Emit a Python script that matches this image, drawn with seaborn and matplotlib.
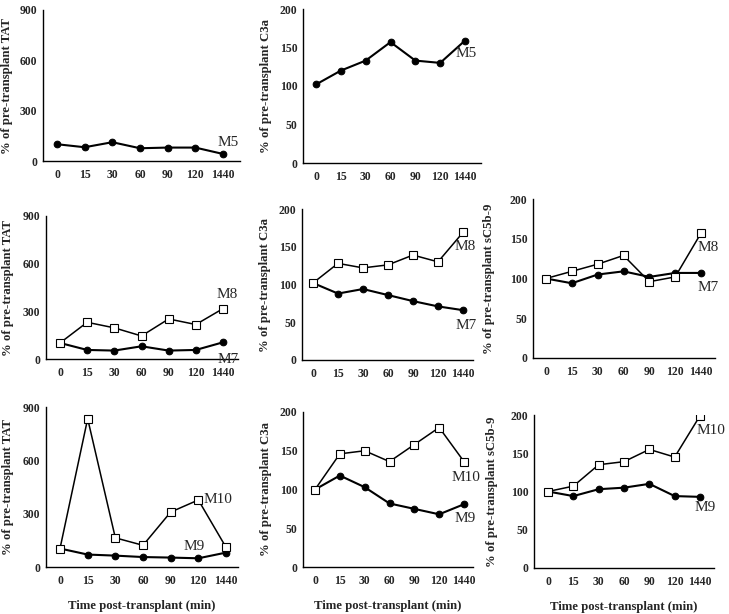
import numpy as np
import pandas as pd
import seaborn as sns
import matplotlib.pyplot as plt

# --- DATA ---
TIMES = ["0", "15", "30", "60", "90", "120", "1440"]

TAT_M5 = [100, 82, 112, 76, 80, 80, 42]
C3A_M5 = [102, 120, 133, 157, 133, 130, 159]

TAT_M7 = [101, 57, 53, 80, 53, 57, 105]
TAT_M8 = [101, 231, 196, 145, 252, 217, 317]
C3A_M7 = [102, 88, 94, 86, 78, 71, 66]
C3A_M8 = [102, 128, 122, 126, 139, 130, 169]
SC5B9_M7 = [100, 94, 105, 109, 102, 107, 107]
SC5B9_M8 = [100, 109, 118, 129, 96, 102, 157]

TAT_M9 = [104, 70, 64, 56, 53, 49, 81]
TAT_M10 = [104, 834, 164, 122, 309, 377, 111]
C3A_M9 = [100, 118, 103, 82, 75, 68, 81]
C3A_M10 = [100, 146, 150, 136, 158, 180, 136]
SC5B9_M9 = [100, 94, 103, 105, 110, 94, 93]
SC5B9_M10 = [100, 107, 135, 139, 155, 145, 199]

YLABELS = {"TAT": "% of pre-transplant TAT",
           "C3a": "% of pre-transplant C3a",
           "sC5b-9": "% of pre-transplant sC5b-9"}

W, H = 729, 614
SERIF = "Liberation Serif"

sns.set_theme(style="white")
plt.rcParams['font.family'] = [SERIF, 'DejaVu Serif']

fig = plt.figure(figsize=(W / 100, H / 100), dpi=100)


def make_axes(left, top, right, bottom, t0, t6):
    ax = fig.add_axes([left / W, 1 - bottom / H, (right - left) / W, (bottom - top) / H])
    sp = (t6 - t0) / 6
    ax.set_xlim((left - t0) / sp, (right - t0) / sp)
    return ax


def draw(ax, measure, series, labels, ylab_x):
    # series: list of (values, kind) with kind 'open' or 'filled'
    x = np.arange(len(TIMES))
    for vals, kind in series:
        if kind == "open":
            sns.lineplot(x=x, y=vals, ax=ax, color="black", lw=1.1, marker="s",
                         markersize=6.2, markerfacecolor="white",
                         markeredgecolor="black", markeredgewidth=0.8, zorder=3)
        else:
            sns.lineplot(x=x, y=vals, ax=ax, color="black", lw=1.5, marker="o",
                         markersize=4.8, markerfacecolor="black",
                         markeredgecolor="black", zorder=2)
    top = 900 if measure == "TAT" else 200
    step = 300 if measure == "TAT" else 50
    ax.set_ylim(0, top)
    ax.set_yticks(np.arange(0, top + 1, step))
    ax.set_xticks(x)
    ax.set_xticklabels(TIMES)
    for s in ["top", "right"]:
        ax.spines[s].set_visible(False)
    for s in ["left", "bottom"]:
        ax.spines[s].set_color("black")
        ax.spines[s].set_linewidth(1.0)
    ax.tick_params(length=0, labelsize=8.4)
    ax.tick_params(axis="x", pad=6)
    ax.tick_params(axis="y", pad=4)
    for t in ax.get_xticklabels() + ax.get_yticklabels():
        t.set_fontweight("bold")
    ax.set_ylabel(YLABELS[measure], fontsize=9.2, fontweight="bold")
    # y label centre, in pixels left of the axis line
    bb = ax.get_position()
    ax.yaxis.set_label_coords(-ylab_x / (bb.width * W), 0.5)
    for text, idx, vals, dx, dy, ha in labels:
        ax.annotate(text, xy=(idx, vals[idx]), xytext=(dx * 0.72, -dy * 0.72),
                    textcoords="offset points", ha=ha, va="center", fontsize=11)


def time_label(ax):
    ax.set_xlabel("Time post-transplant (min)", fontsize=9.2, fontweight="bold", labelpad=9)


# Row 1
ax = make_axes(43, 10, 240, 161, 57, 223)
draw(ax, "TAT", [(TAT_M5, "filled")], [("M5", 6, TAT_M5, 5, -11, "center")], 30)
ax = make_axes(303, 9, 481, 163, 316, 465)
draw(ax, "C3a", [(C3A_M5, "filled")], [("M5", 6, C3A_M5, 1, 13, "center")], 31)

# Row 2
ax = make_axes(46, 216, 238, 359, 60, 223)
draw(ax, "TAT", [(TAT_M7, "filled"), (TAT_M8, "open")],
     [("M8", 6, TAT_M8, 4, -14, "center"), ("M7", 6, TAT_M7, 5, 17, "center")], 32)
ax = make_axes(302, 209, 473, 360, 313, 463)
draw(ax, "C3a", [(C3A_M7, "filled"), (C3A_M8, "open")],
     [("M8", 6, C3A_M8, 2, 14, "center"), ("M7", 6, C3A_M7, 3, 15, "center")], 31)
ax = make_axes(533, 199, 715, 358, 546, 701)
draw(ax, "sC5b-9", [(SC5B9_M7, "filled"), (SC5B9_M8, "open")],
     [("M8", 6, SC5B9_M8, 7, 14, "center"), ("M7", 6, SC5B9_M7, 7, 15, "center")], 38)

# Row 3
ax = make_axes(46, 407, 238, 567, 60, 226)
draw(ax, "TAT", [(TAT_M9, "filled"), (TAT_M10, "open")],
     [("M10", 5, TAT_M10, 5, 0, "left"), ("M9", 5, TAT_M9, -4, -12, "center")], 32)
time_label(ax)
ax = make_axes(303, 412, 473, 567, 315, 464)
draw(ax, "C3a", [(C3A_M9, "filled"), (C3A_M10, "open")],
     [("M10", 6, C3A_M10, 2, 16, "center"), ("M9", 6, C3A_M9, 1, 14, "center")], 31)
time_label(ax)
ax = make_axes(534, 415, 714, 568, 548, 700)
draw(ax, "sC5b-9", [(SC5B9_M9, "filled"), (SC5B9_M10, "open")],
     [("M10", 6, SC5B9_M10, 11, 15, "center"), ("M9", 6, SC5B9_M9, 5, 11, "center")], 36)
time_label(ax)

fig.savefig("out.png", dpi=100)
